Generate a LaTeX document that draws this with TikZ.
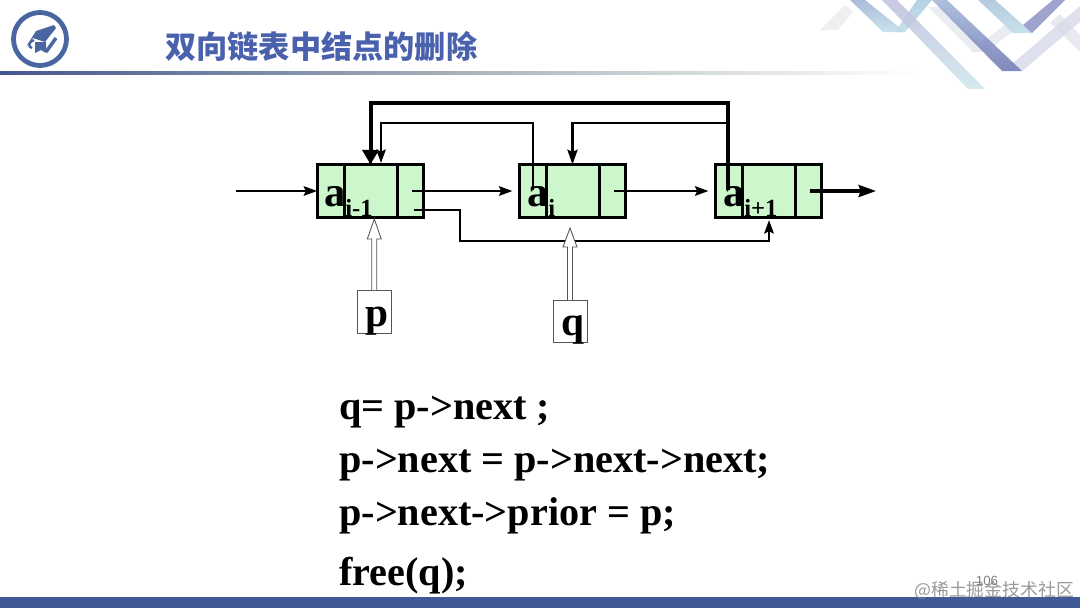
\documentclass[tikz,border=0pt]{standalone}
\usepackage{fontspec}
\setmainfont{Liberation Serif}
\newfontfamily\cjk{Noto Sans CJK SC}
\newfontfamily\pagefont{Liberation Sans}
\usetikzlibrary{arrows.meta,calc,shadings}
\definecolor{cellgreen}{HTML}{CCF7CC}
\definecolor{slideblue}{HTML}{3F5A96}
\definecolor{titleblue}{HTML}{4A62AD}
\definecolor{logoblue}{HTML}{4A66A0}
\definecolor{hollowgray}{HTML}{555555}
\definecolor{ruleA}{HTML}{44568F}
\definecolor{ruleB}{HTML}{B0BABE}
\definecolor{paleA}{HTML}{E8E8F0}
\definecolor{paleB}{HTML}{ECECF0}
\definecolor{paleC}{HTML}{E4E6EE}
\definecolor{paleD}{HTML}{D8DCEA}
\definecolor{tealA}{HTML}{A8C8DC}
\definecolor{tealB}{HTML}{BEDEE8}
\definecolor{tealC}{HTML}{CDE6EB}
\definecolor{blueA}{HTML}{A0B0D6}
\definecolor{lavA}{HTML}{BEBEDE}
\definecolor{blueB}{HTML}{A0B4D8}
\definecolor{blueC}{HTML}{6A75B0}
\definecolor{blueD}{HTML}{A8C0DA}
\definecolor{blueE}{HTML}{8D94C4}
\definecolor{pagegray}{HTML}{808080}
\tikzset{
  cell/.style={draw=black,fill=cellgreen,line width=2.4pt,minimum width=80pt,minimum height=39.75pt,inner sep=0pt,outer sep=0pt},
  divider/.style={line width=2.4pt,black},
  thinarrow/.style={line width=2pt,-{Stealth[length=10pt,width=7pt,inset=1.5pt]}},
  midarrow/.style={line width=2pt,-{Stealth[length=11pt,width=7.5pt,inset=1.5pt]}},
  bigarrow/.style={line width=2.4pt,-{Stealth[length=13pt,width=9pt,inset=1.5pt]}},
  ptrbox/.style={draw=hollowgray,fill=white,line width=.65pt,inner sep=0pt,outer sep=0pt,font=\fontsize{31}{31}\selectfont\bfseries},
  hollow/.style={draw=hollowgray,fill=white,line width=.65pt,line join=miter},
  bigletter/.style={anchor=base west,inner sep=0pt,font=\fontsize{32}{32}\selectfont\bfseries},
  sublabel/.style={anchor=base west,inner sep=0pt,font=\fontsize{18.5}{18.5}\selectfont\bfseries},
  code/.style={anchor=base west,inner sep=0pt,font=\fontsize{30.15}{31}\selectfont\bfseries},
  ribbon/.style={draw=none,opacity=.85},
}
\begin{document}
\begin{tikzpicture}[x=.75pt,y=-.75pt]
\useasboundingbox (0,0) rectangle (1080,608);
% top-right ornament
\fill[ribbon,paleA] (928,7)--(942,7)--(988,52)--(973,52)--cycle;
\fill[ribbon,paleA] (970,52)--(1007,23)--(1015,30)--(985,52)--cycle;
\fill[ribbon,paleB] (820,30)--(845,5)--(853,12)--(838,30)--cycle;
\fill[ribbon,paleC] (1050,23)--(1060,14)--(1080,35)--(1080,52)--cycle;
\fill[ribbon,paleD] (1013,63)--(1080,6)--(1080,22)--(1022,71)--cycle;
\shade[ribbon,top color=tealA,bottom color=tealB] (895,32)--(905,32)--(932,0)--(917,0)--cycle;
\shade[ribbon,top color=blueA,bottom color=tealB] (850,0)--(865,0)--(905,32)--(883,32)--cycle;
\shade[ribbon,top color=lavA,bottom color=tealC] (882,0)--(897,0)--(985,89)--(968,89)--cycle;
\shade[ribbon,top color=blueB,bottom color=blueC] (932,0)--(947,0)--(1022,71)--(1002,71)--cycle;
\shade[ribbon,top color=blueD,bottom color=tealB] (978,0)--(995,0)--(1032,33)--(1013,33)--cycle;
\fill[ribbon,blueE] (1023,25)--(1053,0)--(1065,0)--(1032,33)--cycle;
% header
\draw[line width=3.6pt,logoblue] (40,39) circle (26.5);
\fill[logoblue] (26,47)--(36,31)--(54,25)--(56,28)--(45,42)--(33,38)--cycle;
\draw[logoblue,line width=1.8pt] (34,40) .. controls (28,42) and (28,47) .. (32,48);
\fill[logoblue] (35,42)--(46,42)--(46,53)--(41,50)--(35,53)--cycle;
\draw[logoblue,line width=2.6pt] (46,52)--(56,38);
\node[anchor=base west,inner sep=0pt,text=titleblue,font=\cjk\bfseries\fontsize{23.4}{24}\selectfont] (title) at (165,58) {双向链表中结点的删除};
\shade[left color=ruleA,right color=ruleB] (0,71.5) rectangle (500,74);
\shade[left color=ruleB,right color=white] (500,71.5) rectangle (920,74);
\fill[slideblue] (0,597) rectangle (1080,608);
% list cells
\node[cell] (n1) at (370.5,191) {};
\node[cell] (n2) at (572.5,191) {};
\node[cell] (n3) at (768.5,191) {};
\foreach \n in {n1,n2,n3}{
  \draw[divider] ($(\n.north west)+(27,0)$) -- ($(\n.south west)+(27,0)$);
  \draw[divider] ($(\n.north east)+(-26,0)$) -- ($(\n.south east)+(-26,0)$);
}
% anchors of the connectors
\coordinate (inEnd) at (236,191);
\coordinate (n1next) at (412,191);
\coordinate (n1skip) at (414,210);
\coordinate (n2next) at (614,191);
\coordinate (n3next) at (810,191);
\coordinate (outEnd) at (876,191);
\coordinate (n2prior) at (533,190);
\coordinate (n3prior) at (728,190);
\coordinate (n1top) at (381,163);
\coordinate (n3skip) at (769,220);
\coordinate (qtip) at (570,228);
\coordinate (ptip) at (374.3,219);
% forward arrows
\draw[thinarrow] (inEnd) -- (n1.west);
\draw[thinarrow,shorten >=5pt] (n1next) -- (n1next -| n2.west);
\draw[thinarrow,shorten >=5pt] (n2next) -- (n2next -| n3.west);
\draw[bigarrow] (n3next) -- (outEnd);
% prior arrows
\draw[thinarrow] (n2prior) -- ++(0,-67) -| (n1top);
\draw[midarrow] (n3prior) -- ++(0,-67) -| (n2.north);
\draw[line width=2.3pt] (n3prior) -- ++(0,-87) -| (n1.north);
\draw[line width=3pt,-{Triangle[length=11pt,width=12pt]}] (370.5,105) -- (n1.north);
% skipping arrow
\draw[thinarrow] (n1skip) -- ++(46,0) -- ++(0,31) -| (n3skip);
% labels in cells
\node[bigletter] (a1) at (324,206) {a};
\node[sublabel] (s1) at (345,216) {i-1};
\node[bigletter] (a2) at (527,206) {a};
\node[sublabel] (s2) at (548,216) {i};
\node[bigletter] (a3) at (723,206) {a};
\node[sublabel] (s3) at (744,216) {i+1};
% pointers
\node[ptrbox,minimum width=25.5pt,minimum height=32.25pt] (p) at (374,311.5) {\smash{\raisebox{-11.6pt}{\hspace{4pt}p}}};
\node[ptrbox,minimum width=25.5pt,minimum height=31.5pt] (q) at (570,321) {\smash{\raisebox{-10.5pt}{\hspace{4pt}q}}};
\draw[hollow] (p.north -| ptip) ++(-2.5,0) -- ++(0,-51) -- ++(-4.5,0) -- (ptip) -- ++(7,20) -- ++(-4.5,0) -- ++(0,51);
\draw[hollow] (q.north -| qtip) ++(-2.5,0) -- ++(0,-53) -- ++(-4.5,0) -- (qtip) -- ++(7,19) -- ++(-4.5,0) -- ++(0,53);
% code
\node[code] (c1) at (339,419) {q= p->next ;};
\node[code] (c2) at (339,472) {p->next = p->next->next;};
\node[code] (c3) at (339,525) {p->next->prior = p;};
\node[code] (c4) at (339,585) {free(q);};
% footer
\node[anchor=base,inner sep=0pt,text=pagegray,font=\pagefont\fontsize{10}{11}\selectfont] (page) at (987,585) {106};
\node[anchor=base west,inner sep=0pt,text=pagegray,opacity=.8,font=\cjk\fontsize{13.4}{14}\selectfont] (mark) at (914,596) {@稀土掘金技术社区};
\end{tikzpicture}
\end{document}
